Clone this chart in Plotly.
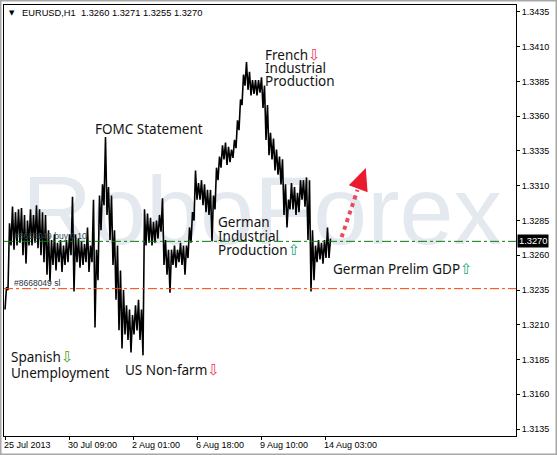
import plotly.graph_objects as go

# EURUSD H1, 25 Jul - 14 Aug 2013, summarised in 3-hour columns (high / low)
HOURS_PER_COL = 3
highs = [
    1.3237, 1.3283, 1.3295, 1.3291, 1.3293, 1.3294, 1.3289, 1.3285, 1.3293, 1.3289,
    1.3296, 1.3293, 1.3291, 1.3289, 1.3278, 1.3271, 1.3275, 1.3269, 1.3271, 1.3267,
    1.3271, 1.3275, 1.3302, 1.3275, 1.3272, 1.3270, 1.3268, 1.3280, 1.3267, 1.3300,
    1.3264, 1.3303, 1.3311, 1.3345, 1.3309, 1.3303, 1.3278, 1.3267, 1.3249, 1.3235,
    1.3224, 1.3221, 1.3217, 1.3224, 1.3228, 1.3221, 1.3293, 1.3290, 1.3287, 1.3284,
    1.3285, 1.3289, 1.3301, 1.3271, 1.3264, 1.3264, 1.3267, 1.3264, 1.3269, 1.3267,
    1.3267, 1.3280, 1.3291, 1.3321, 1.3312, 1.3314, 1.3311, 1.3307, 1.3307, 1.3303,
    1.3323, 1.3331, 1.3339, 1.3341, 1.3338, 1.3336, 1.3343, 1.3357, 1.3372, 1.3390,
    1.3399, 1.3392, 1.3386, 1.3386, 1.3386, 1.3388, 1.3382, 1.3368, 1.3348, 1.3344,
    1.3336, 1.3331, 1.3329, 1.3311, 1.3300, 1.3312, 1.3309, 1.3305, 1.3314, 1.3314,
    1.3316, 1.3314, 1.3278, 1.3267, 1.3271, 1.3269, 1.3271, 1.3280, 1.3272,
]
lows = [
    1.3221, 1.3235, 1.3267, 1.3264, 1.3267, 1.3269, 1.3260, 1.3254, 1.3267, 1.3267,
    1.3269, 1.3265, 1.3260, 1.3255, 1.3246, 1.3241, 1.3253, 1.3249, 1.3255, 1.3248,
    1.3253, 1.3255, 1.3260, 1.3234, 1.3255, 1.3251, 1.3253, 1.3255, 1.3248, 1.3255,
    1.3208, 1.3242, 1.3278, 1.3296, 1.3289, 1.3271, 1.3253, 1.3228, 1.3206, 1.3193,
    1.3203, 1.3199, 1.3190, 1.3203, 1.3206, 1.3199, 1.3188, 1.3267, 1.3269, 1.3267,
    1.3269, 1.3272, 1.3277, 1.3253, 1.3246, 1.3233, 1.3253, 1.3251, 1.3255, 1.3253,
    1.3246, 1.3258, 1.3269, 1.3285, 1.3300, 1.3300, 1.3296, 1.3291, 1.3289, 1.3270,
    1.3293, 1.3314, 1.3323, 1.3329, 1.3325, 1.3327, 1.3330, 1.3337, 1.3350, 1.3368,
    1.3382, 1.3379, 1.3375, 1.3376, 1.3375, 1.3377, 1.3366, 1.3343, 1.3332, 1.3329,
    1.3321, 1.3318, 1.3311, 1.3289, 1.3280, 1.3293, 1.3293, 1.3289, 1.3291, 1.3300,
    1.3295, 1.3271, 1.3234, 1.3242, 1.3255, 1.3257, 1.3254, 1.3258, 1.3258,
]

# last hourly bar shown in the header: open, high, low, close
last_ohlc = [1.3260, 1.3271, 1.3255, 1.3270]

# open order #8668049 and its stop loss
order_id = "#8668049"
buy_price = 1.3270
buy_lots = 0.10
sl_price = 1.3236

# time axis: bar index of each label and its text
time_ticks = [0, 64, 128, 192, 256, 320]
time_labels = ["25 Jul 2013", "30 Jul 09:00", "2 Aug 01:00",
               "6 Aug 18:00", "9 Aug 10:00", "14 Aug 03:00"]

# price axis
price_ticks = [1.3135, 1.3160, 1.3185, 1.3210, 1.3235, 1.3260, 1.3285,
               1.3310, 1.3335, 1.3360, 1.3385, 1.3410, 1.3435]
price_labels = ["1.3135", "1.3160", "1.3185", "1.3210", "1.3235", "1.3260", "1.3285",
                "1.3310", "1.3335", "1.3360", "1.3385", "1.3410", "1.3435"]

# news events: text lines, arrow glyph, arrow colour, line carrying the arrow,
# anchor bar index, price of each line
DOWN, UP = "\u21e9", "\u21e7"
events = [
    (["FOMC Statement"], None, None, 0, 90.4, [1.33511]),
    (["French", "Industrial", "Production"], DOWN, "#ec3462", 0, 260.0, [1.34040, 1.33945, 1.33853]),
    (["German", "Industrial", "Production"], UP, "#17a57c", 2, 213.0, [1.32839, 1.32742, 1.32641]),
    (["German Prelim GDP"], UP, "#17a57c", 0, 328.0, [1.32501]),
    (["Spanish", "Unemployment"], DOWN, "#4c9d22", 0, 5.7, [1.31865, 1.31753]),
    (["US Non-farm"], DOWN, "#ec3462", 0, 119.6, [1.31775]),
]

FONT_UI = "Liberation Sans, Arial, sans-serif"
FONT_TXT = "Noto Sans, DejaVu Sans, sans-serif"

# price trace: a fine zigzag running low -> high through every column
px_x, px_y = [], []
for i, (h, l) in enumerate(zip(highs, lows)):
    x0 = i * HOURS_PER_COL
    px_x += [x0, x0 + 1.5]
    px_y += [l, h]

fig = go.Figure()

# watermark behind the price
fig.add_trace(go.Scatter(
    x=[257], y=[1.32855], mode="text", text=["RoboForex"],
    textfont=dict(family=FONT_UI, size=97, color="#e4e9ef"),
    textposition="middle center", hoverinfo="skip", cliponaxis=False,
))

fig.add_trace(go.Scatter(
    x=px_x, y=px_y, mode="lines",
    line=dict(color="#000000", width=1.6),
    hoverinfo="skip",
))

shapes = [
    # order and stop-loss levels
    dict(type="line", xref="paper", x0=0, x1=1, yref="y", y0=buy_price, y1=buy_price,
         line=dict(color="#0d7a0d", width=1, dash="dashdot"), layer="above"),
    dict(type="line", xref="paper", x0=0, x1=1, yref="y", y0=sl_price, y1=sl_price,
         line=dict(color="#ff4500", width=1, dash="dashdot"), layer="above"),
    # dotted forecast arrow: shaft and head
    dict(type="line", xref="x", yref="y", x0=336.6, y0=1.32730, x1=352.5, y1=1.33070,
         line=dict(color="#ee4a5c", width=4, dash="dot"), layer="above"),
    dict(type="path", xref="x", yref="y",
         path="M 360.8,1.33227 L 343.8,1.33103 L 362.6,1.33054 Z",
         fillcolor="#ea1b2e", line=dict(width=0), layer="above"),
    # window border
    dict(type="rect", xref="paper", yref="paper",
         x0=-4 / 512, x1=553 / 512, y0=-19 / 431, y1=436 / 431,
         line=dict(color="#a8a8a8", width=3), fillcolor="rgba(0,0,0,0)", layer="above"),
]

annotations = []

for lines, glyph, colour, arrow_at, xi, ys in events:
    for k, (txt, yv) in enumerate(zip(lines, ys)):
        if glyph and k == arrow_at:
            txt = (f'{txt}<span style="color:{colour};font-size:15px;'
                   f'font-family:DejaVu Sans">{glyph}</span>')
        annotations.append(dict(
            x=xi, y=yv, xref="x", yref="y", text=txt, showarrow=False,
            xanchor="left", yanchor="middle", xshift=-2,
            font=dict(family=FONT_TXT, size=13.5, color="#141414"),
        ))

# order labels
annotations += [
    dict(x=7, y=1.32739, xref="x", yref="y", showarrow=False, xanchor="left",
         yanchor="middle", text=f"{order_id} buy {buy_lots:.2f}",
         font=dict(family=FONT_UI, size=8.5, color="#2f4a45")),
    dict(x=7, y=1.32403, xref="x", yref="y", showarrow=False, xanchor="left",
         yanchor="middle", text=f"{order_id} sl",
         font=dict(family=FONT_UI, size=8.5, color="#2a3344")),
]

# header
hdr = "EURUSD,H1\u00a0\u00a0" + " ".join(f"{v:.4f}" for v in last_ohlc)
annotations += [
    dict(x=(11.5 - 4) / 512, y=(436 - 12.7) / 431, xref="paper", yref="paper",
         text="\u25bc", showarrow=False, xanchor="center", yanchor="middle",
         font=dict(family="DejaVu Sans", size=7, color="#000")),
    dict(x=(19.5 - 4) / 512, y=(436 - 12.7) / 431, xref="paper", yref="paper",
         text=hdr, showarrow=False, xanchor="left", yanchor="middle",
         font=dict(family=FONT_UI, size=9.3, color="#000")),
]

# current price tag
annotations.append(dict(
    x=1, y=last_ohlc[3], xref="paper", yref="y", text=f"{last_ohlc[3]:.4f}",
    showarrow=False, xanchor="left", yanchor="middle", xshift=1,
    bgcolor="#000000", borderpad=1,
    font=dict(family=FONT_UI, size=9.3, color="#ffffff"),
))

fig.update_layout(
    width=557, height=455,
    margin=dict(l=4, r=41, t=5, b=19, pad=0),
    paper_bgcolor="#ffffff", plot_bgcolor="#ffffff",
    showlegend=False,
    shapes=shapes, annotations=annotations,
    xaxis=dict(
        range=[-1, 511], showgrid=False, zeroline=False,
        showline=True, linecolor="#000", linewidth=1, mirror=True,
        ticks="outside", ticklen=3, tickcolor="#000",
        tickvals=time_ticks, ticktext=time_labels,
        ticklabelposition="outside right", ticklabelshift=-2,
        tickfont=dict(family=FONT_UI, size=9, color="#000"),
        automargin=False, fixedrange=True,
    ),
    yaxis=dict(
        side="right", range=[1.3130, 1.3440], showgrid=False, zeroline=False,
        showline=True, linecolor="#000", linewidth=1, mirror=True,
        ticks="outside", ticklen=3, tickcolor="#000",
        tickvals=price_ticks, ticktext=price_labels,
        tickfont=dict(family=FONT_UI, size=9, color="#000"),
        automargin=False, fixedrange=True,
    ),
)

fig.write_html("out.html")
